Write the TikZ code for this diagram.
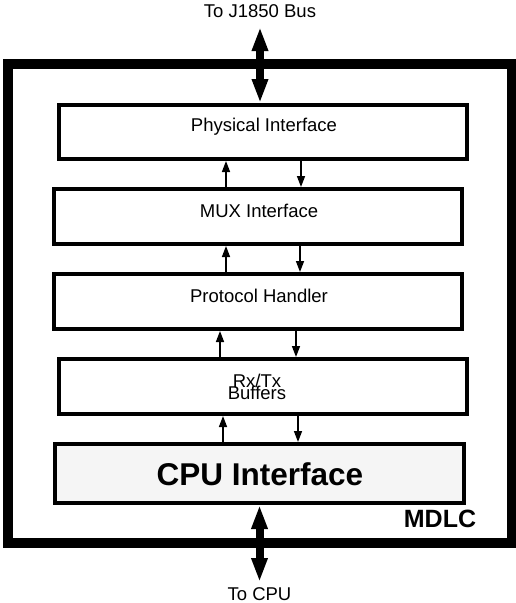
\documentclass[tikz,border=0pt]{standalone}
\usepackage{fontspec}
\setmainfont{Liberation Sans}
\usetikzlibrary{arrows.meta}
\tikzset{
  x=1pt, y=-1pt,
  box/.style={draw, line width=4pt, minimum width=408pt, minimum height=55pt, inner sep=0pt},
  cpubox/.style={box, fill=black!4, minimum width=409pt, minimum height=59pt},
  frame/.style={draw, line width=10pt, inner sep=0pt},
  lbl/.style={anchor=base, inner sep=0pt, font=\fontsize{18.5}{20}\selectfont},
  bus/.style={line width=8pt, {Triangle[width=15pt,length=24pt]}-{Triangle[width=15pt,length=24pt]}},
  sig/.style={line width=1.5pt, -{Triangle[width=8pt,length=11pt]}}
}
\begin{document}
\begin{tikzpicture}
\useasboundingbox (0,0) rectangle (516,603);
% outer MDLC frame
\node[frame, minimum width=503.5pt, minimum height=478.5pt] (mdlc) at (259.75,303.25) {};
% layer boxes
\node[box, minimum height=54pt] (phys) at (263,132) {};
\node[box] (mux) at (258,216.5) {};
\node[box] (proto) at (258,301.5) {};
\node[box] (rxtx) at (263,386.5) {};
\node[cpubox] (cpu) at (259.5,473.5) {};
% labels
\node[lbl] (physT) at (264,131.7) {Physical Interface};
\node[lbl] (muxT) at (259,217) {MUX Interface};
\node[lbl] (protoT) at (259,302) {Protocol Handler};
\node[lbl] (rxT) at (257,387) {Rx/Tx};
\node[lbl] (bufT) at (257,399.5) {Buffers};
\node[anchor=base, inner sep=0pt, font=\fontsize{31.5}{34}\selectfont\bfseries] (cpuT) at (260,485) {CPU Interface};
\node[anchor=base, inner sep=0pt, font=\fontsize{25}{28}\selectfont\bfseries] (mdlcT) at (440,527) {MDLC};
\node[lbl] (topT) at (260,17) {To J1850 Bus};
\node[lbl] (botT) at (259.5,600) {To CPU};
% bus arrows
\coordinate (busT) at (260,27);
\coordinate (busB) at (259.5,582);
\draw[bus] (busT) -- (busT |- phys.north);
\draw[bus] (busB |- cpu.south) -- (busB);
% signal arrows
\coordinate (u1) at (226,0); \coordinate (d1) at (301,0);
\coordinate (u2) at (226,0); \coordinate (d2) at (300,0);
\coordinate (u3) at (220,0); \coordinate (d3) at (296,0);
\coordinate (u4) at (223,0); \coordinate (d4) at (298,0);
\draw[sig] (mux.north -| u1) -- (phys.south -| u1);
\draw[sig] (phys.south -| d1) -- (mux.north -| d1);
\draw[sig] (proto.north -| u2) -- (mux.south -| u2);
\draw[sig] (mux.south -| d2) -- (proto.north -| d2);
\draw[sig] (rxtx.north -| u3) -- (proto.south -| u3);
\draw[sig] (proto.south -| d3) -- (rxtx.north -| d3);
\draw[sig] (cpu.north -| u4) -- (rxtx.south -| u4);
\draw[sig] (rxtx.south -| d4) -- (cpu.north -| d4);
\end{tikzpicture}
\end{document}
